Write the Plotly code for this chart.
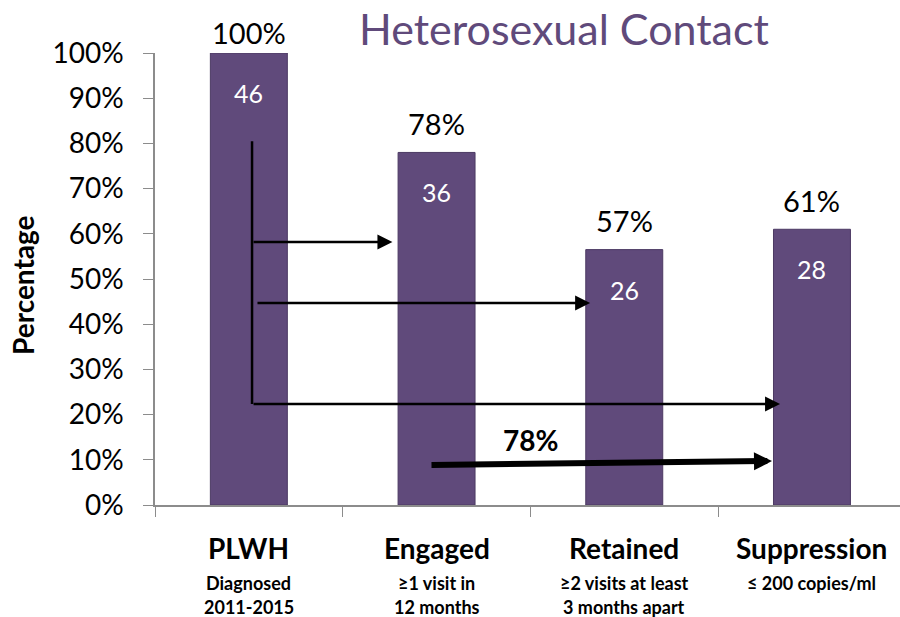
import plotly.graph_objects as go

categories = ["PLWH", "Engaged", "Retained", "Suppression"]
pct = [1.00, 0.78, 0.565, 0.61]
pct_labels = ["100%", "78%", "57%", "61%"]
counts = [46, 36, 26, 28]
sub_line1 = ["Diagnosed", "≥1 visit in", "≥2 visits at least", "≤ 200 copies/ml"]
sub_line2 = ["2011-2015", "12 months", "3 months apart", ""]
overall_label = "78%"

FONT = "Lato"
PURPLE = "#604a7b"
GREY = "#8c8c8c"

W, H = 900, 617
ML, MT, MB = 155, 53, 112
PW, PH = W - ML, H - MT - MB

xi = list(range(len(categories)))

fig = go.Figure()
fig.add_trace(go.Bar(
    x=xi, y=pct,
    marker=dict(color=PURPLE, line=dict(color="#4c3a63", width=1)),
    width=0.41,
    hoverinfo="skip",
))

ann = []
for i in xi:
    # value above the bar
    ann.append(dict(x=i, y=pct[i], xref="x", yref="y", text=pct_labels[i],
                    showarrow=False, yanchor="middle", yshift=21 if pct[i] >= 1 else 29,
                    font=dict(family=FONT, size=29, color="black")))
    # count inside the bar
    ann.append(dict(x=i, y=pct[i], xref="x", yref="y", text=str(counts[i]),
                    showarrow=False, yanchor="middle", yshift=-40,
                    font=dict(family=FONT, size=25, color="white")))
    # category labels
    ann.append(dict(x=i, y=0, xref="x", yref="paper", text="<b>%s</b>" % categories[i],
                    showarrow=False, yanchor="middle", yshift=-43,
                    font=dict(family=FONT, size=28, color="black")))
    ann.append(dict(x=i, y=0, xref="x", yref="paper", text="<b>%s</b>" % sub_line1[i],
                    showarrow=False, yanchor="middle", yshift=-78,
                    font=dict(family=FONT, size=18, color="black")))
    if sub_line2[i]:
        ann.append(dict(x=i, y=0, xref="x", yref="paper", text="<b>%s</b>" % sub_line2[i],
                        showarrow=False, yanchor="middle", yshift=-102,
                        font=dict(family=FONT, size=18, color="black")))

# flow arrows from PLWH to the later stages
x0 = 0.017
for tip_x, lvl, tail_x in [(0.765, 0.582, x0), (1.818, 0.447, 0.038), (2.83, 0.2235, x0)]:
    ann.append(dict(x=tip_x, y=lvl, ax=tail_x, ay=lvl, xref="x", yref="y",
                    axref="x", ayref="y", text="", showarrow=True,
                    arrowhead=2, arrowsize=1.2, arrowwidth=2.5, arrowcolor="black"))

# thick overall arrow
ann.append(dict(x=2.787, y=0.0973, ax=0.965, ay=0.0885, xref="x", yref="y",
                axref="x", ayref="y", text="", showarrow=True,
                arrowhead=2, arrowsize=0.6, arrowwidth=6, arrowcolor="black"))
ann.append(dict(x=1.498, y=0.144, xref="x", yref="y", text="<b>%s</b>" % overall_label,
                showarrow=False, font=dict(family=FONT, size=28, color="black")))

# title
ann.append(dict(x=(564 - ML) / PW, y=1 + (MT - 28) / PH, xref="paper", yref="paper",
                xanchor="center", yanchor="middle", text="Heterosexual Contact",
                showarrow=False, font=dict(family=FONT, size=43, color=PURPLE)))
# y axis title
ann.append(dict(x=(23 - ML) / PW, y=1 - (285 - MT) / PH, xref="paper", yref="paper",
                xanchor="center", yanchor="middle", textangle=-90,
                text="<b>Percentage</b>", showarrow=False,
                font=dict(family=FONT, size=28, color="black")))

fig.update_layout(
    width=W, height=H,
    margin=dict(l=ML, r=0, t=MT, b=MB),
    paper_bgcolor="white", plot_bgcolor="white",
    showlegend=False,
    font=dict(family=FONT, color="black"),
    shapes=[dict(type="line", xref="x", yref="y", x0=x0, x1=x0, y0=0.805, y1=0.2235,
                 line=dict(color="black", width=2.5))],
    annotations=ann,
)

# axis runs a little past the right edge of the window, as in the original slide
fig.update_xaxes(range=[-0.5, 3.469], showticklabels=False, showline=True, linecolor=GREY,
                 linewidth=1.5, ticks="outside", tickvals=[-0.5, 0.5, 1.5, 2.5],
                 ticklen=10, tickcolor=GREY, showgrid=False, zeroline=False)
fig.update_yaxes(range=[0, 1], dtick=0.1, tickformat=".0%", showline=True, linecolor=GREY,
                 linewidth=1.5, ticks="outside", ticklen=10, tickcolor=GREY,
                 ticklabelstandoff=14, showgrid=False, zeroline=False,
                 tickfont=dict(family=FONT, size=28, color="black"))

# drop the default page margin so the figure sits at the window's corner
fig.write_html("out.html", config={"displayModeBar": False},
               post_script="document.body.style.margin='0';")
